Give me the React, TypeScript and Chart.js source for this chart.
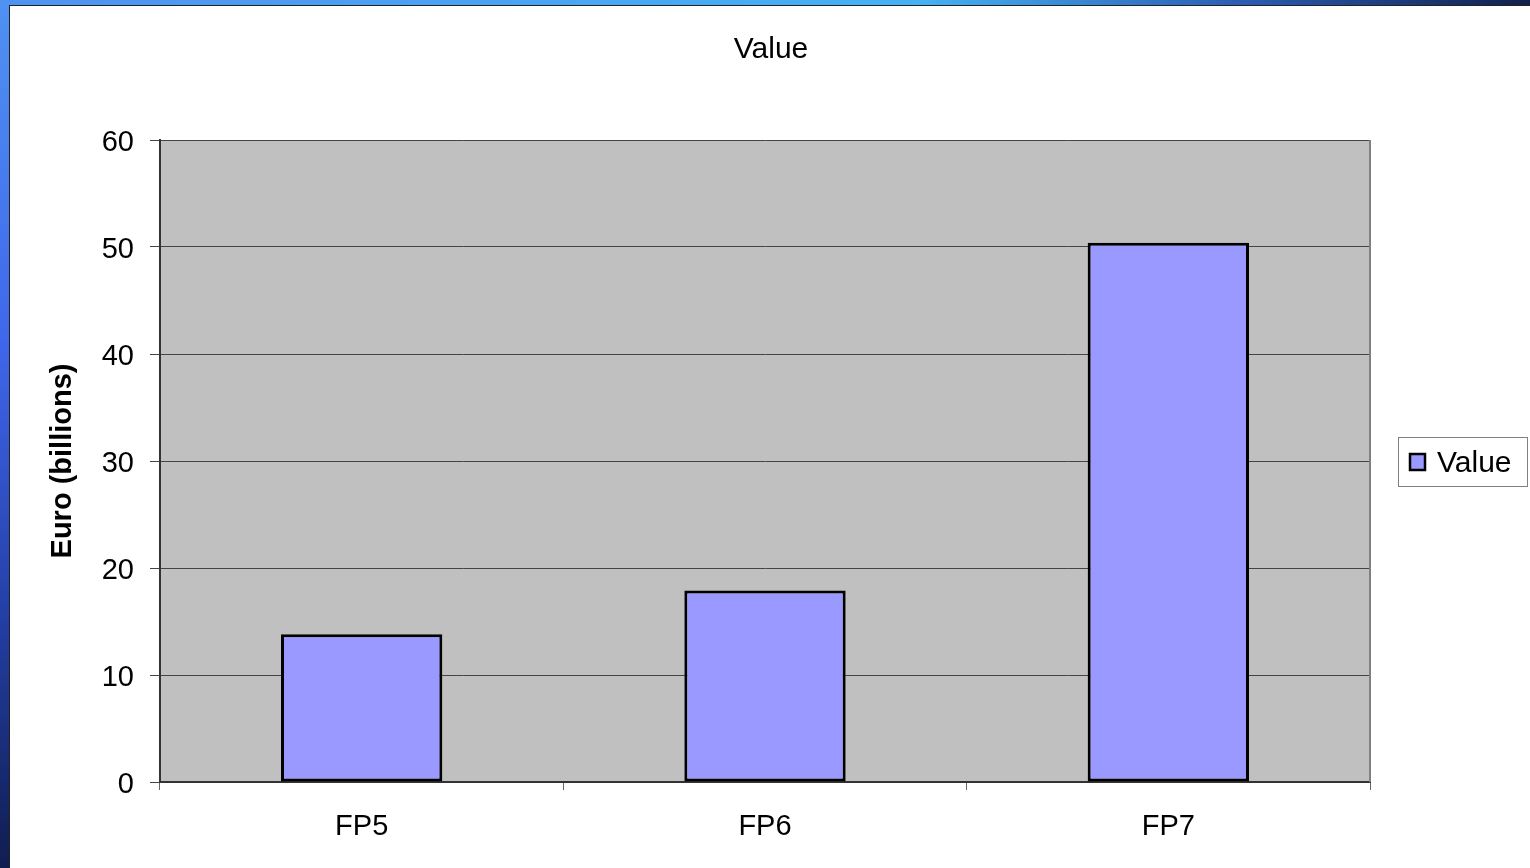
import React, { useEffect, useRef } from "react";
import { Chart, registerables } from "chart.js";

Chart.register(...registerables);

const categories = ["FP5", "FP6", "FP7"];
const values = [13.8, 17.9, 50.4];
const seriesName = "Value";
const chartTitle = "Value";
const yAxisTitle = "Euro (billions)";

const FONT = "'Liberation Sans', Arial, sans-serif";

const decorPlugin = {
  id: "decor",
  beforeDraw(chart: any) {
    const { ctx, chartArea } = chart;
    ctx.save();
    ctx.fillStyle = "#C0C0C0";
    ctx.fillRect(chartArea.left, chartArea.top, chartArea.right - chartArea.left, chartArea.bottom - chartArea.top);
    ctx.restore();
  },
  beforeDatasetsDraw(chart: any) {
    const { ctx, chartArea } = chart;
    ctx.save();
    ctx.strokeStyle = "#808080";
    ctx.lineWidth = 2;
    ctx.beginPath();
    ctx.moveTo(chartArea.right, chartArea.top);
    ctx.lineTo(chartArea.right, chartArea.bottom);
    ctx.stroke();
    ctx.restore();
  },
  afterDraw(chart: any) {
    const { ctx } = chart;
    ctx.save();
    // title
    ctx.fillStyle = "#000";
    ctx.font = `30px ${FONT}`;
    ctx.textAlign = "center";
    ctx.textBaseline = "middle";
    ctx.fillText(chartTitle, 771, 50);
    // legend
    ctx.fillStyle = "#fff";
    ctx.fillRect(1398, 437, 130, 50);
    ctx.strokeStyle = "#808080";
    ctx.lineWidth = 1;
    ctx.strokeRect(1398.5, 437.5, 129, 49);
    const ds = chart.data.datasets[0];
    ctx.fillStyle = ds.backgroundColor;
    ctx.fillRect(1410, 454, 15, 16);
    ctx.strokeStyle = "#000";
    ctx.lineWidth = 2.5;
    ctx.strokeRect(1410, 454, 15, 16);
    ctx.fillStyle = "#000";
    ctx.font = `30px ${FONT}`;
    ctx.textAlign = "left";
    ctx.textBaseline = "middle";
    ctx.fillText(ds.label, 1437, 464);
    ctx.restore();
  },
};

export default function App() {
  const ref = useRef<HTMLCanvasElement | null>(null);
  useEffect(() => {
    if (!ref.current) return;
    const chart = new Chart(ref.current, {
      type: "bar",
      data: {
        labels: categories,
        datasets: [
          {
            label: seriesName,
            data: values,
            backgroundColor: "#9999FF",
            borderColor: "#000000",
            borderWidth: 3,
            borderSkipped: false,
            barPercentage: 0.4,
            categoryPercentage: 1.0,
          },
        ],
      },
      options: {
        animation: false,
        responsive: false,
        devicePixelRatio: 1,
        layout: { padding: { left: 10, top: 140, right: 160, bottom: 0 } },
        plugins: {
          legend: { display: false },
          title: { display: false },
          tooltip: { enabled: false },
        },
        scales: {
          x: {
            afterFit: (s: any) => {
              s.height = 86;
            },
            offset: true,
            grid: {
              display: true,
              drawOnChartArea: false,
              drawTicks: true,
              tickLength: 8,
              offset: true,
              color: "#666",
            },
            border: { display: true, color: "#333", width: 2 },
            ticks: {
              color: "#000",
              font: { family: FONT, size: 29 },
              padding: 20,
              maxRotation: 0,
            },
          },
          y: {
            min: 0,
            max: 60,
            afterFit: (s: any) => {
              s.width = 150;
            },
            grid: {
              color: "#444",
              drawTicks: true,
              tickLength: 10,
            },
            border: { display: true, color: "#333", width: 2 },
            ticks: {
              stepSize: 10,
              color: "#000",
              font: { family: FONT, size: 29 },
              padding: 16,
              labelOffset: 3,
            },
            title: {
              display: true,
              text: yAxisTitle,
              color: "#000",
              font: { family: FONT, size: 29, weight: "bold" },
              padding: { top: 36, bottom: 0 },
            },
          },
        },
      },
      plugins: [decorPlugin],
    });
    return () => chart.destroy();
  }, []);

  return (
    <div
      style={{
        position: "fixed",
        left: 0,
        top: 0,
        width: 1530,
        height: 868,
        overflow: "hidden",
        background: "linear-gradient(to bottom, #4f92f2 0%, #3f66ea 40%, #2440a8 70%, #101d50 100%)",
      }}
    >
      <div
        style={{
          position: "absolute",
          left: 0,
          top: 0,
          width: 1530,
          height: 6,
          background: "linear-gradient(to right, #4f92f2 0%, #45b2f4 60%, #2a5ab0 82%, #12204a 100%)",
        }}
      />
      <div
        style={{
          position: "absolute",
          left: 9,
          top: 5,
          width: 1530,
          height: 870,
          background: "#fff",
          borderLeft: "1px solid #222",
          borderTop: "1px solid #222",
        }}
      />
      <canvas
        ref={ref}
        width={1530}
        height={868}
        style={{ position: "absolute", left: 0, top: 0, width: 1530, height: 868 }}
      />
    </div>
  );
}
